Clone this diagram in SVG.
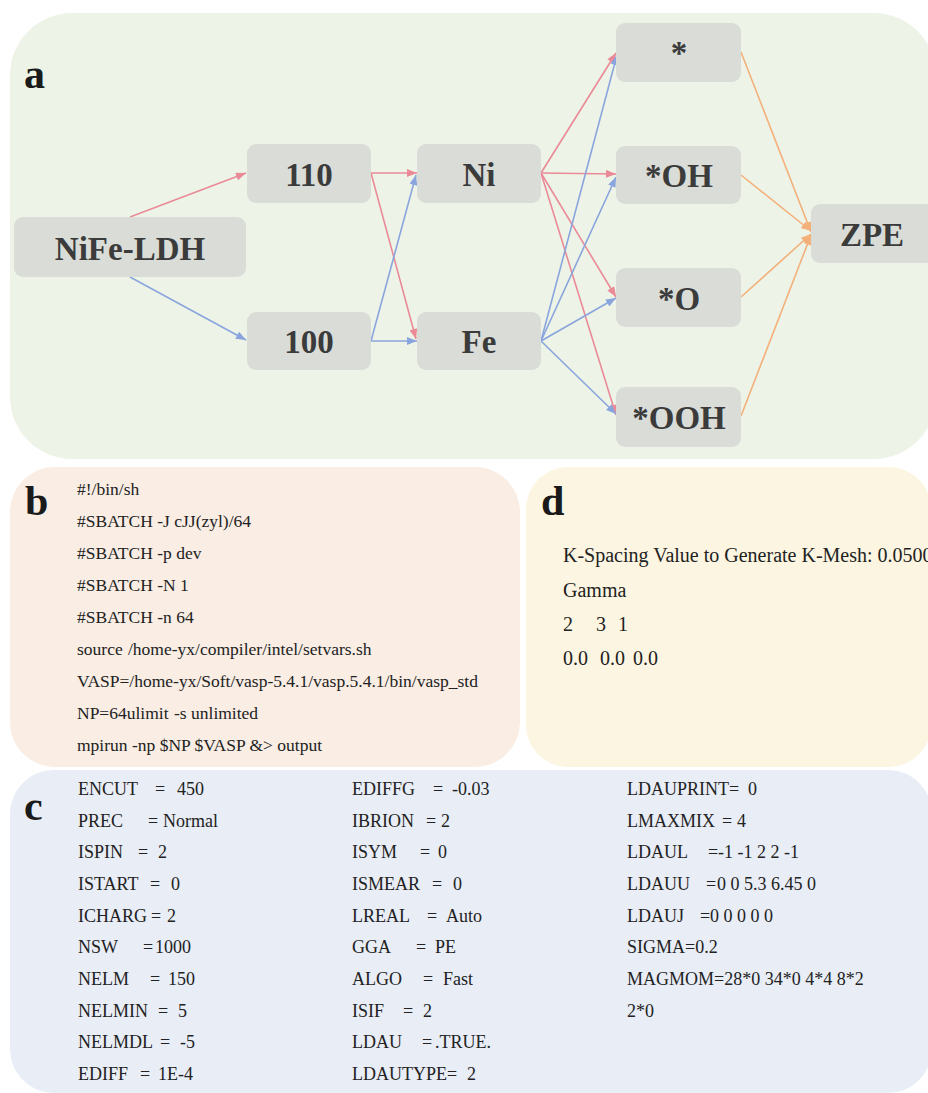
<svg xmlns="http://www.w3.org/2000/svg" width="928" height="1093" viewBox="0 0 928 1093">
<style>
.node{fill:#d9dcd7}
.nt{font-family:"Liberation Serif",serif;font-weight:bold;font-size:33px;fill:#3b3b3b;text-anchor:middle}
.lbl{font-family:"Liberation Serif",serif;font-weight:bold;font-size:42px;fill:#1a1a1a}
.code{font-family:"Liberation Serif",serif;font-size:17.5px;fill:#222}
.kp{font-family:"Liberation Serif",serif;font-size:20px;fill:#222}
.inc{font-family:"Liberation Serif",serif;font-size:18px;fill:#222}
.pk{stroke:#ea8a97;stroke-width:1.6;fill:none}
.bl{stroke:#8aa5dd;stroke-width:1.6;fill:none}
.or{stroke:#f3b07a;stroke-width:1.6;fill:none}
</style>
<defs>
<marker id="mp" viewBox="0 0 10 8" refX="10" refY="4" markerWidth="11" markerHeight="8" markerUnits="userSpaceOnUse" orient="auto"><path d="M0,0 L10,4 L0,8 z" fill="#ea8a97"/></marker>
<marker id="mb" viewBox="0 0 10 8" refX="10" refY="4" markerWidth="11" markerHeight="8" markerUnits="userSpaceOnUse" orient="auto"><path d="M0,0 L10,4 L0,8 z" fill="#8aa5dd"/></marker>
<marker id="mo" viewBox="0 0 10 8" refX="10" refY="4" markerWidth="11" markerHeight="8" markerUnits="userSpaceOnUse" orient="auto"><path d="M0,0 L10,4 L0,8 z" fill="#f3b07a"/></marker>
</defs>
<rect width="928" height="1093" fill="#ffffff"/>

<g id="panel-a">
<rect x="10" y="13" width="926" height="446" rx="62" fill="#edf4e7"/>
<text class="lbl" x="24" y="88">a</text>
</g>

<g id="connectors">
<line class="pk" x1="130" y1="217" x2="246" y2="173" marker-end="url(#mp)"/>
<line class="bl" x1="130" y1="277" x2="246" y2="340" marker-end="url(#mb)"/>
<line class="pk" x1="371" y1="173" x2="417" y2="173" marker-end="url(#mp)"/>
<line class="pk" x1="371" y1="173" x2="416" y2="339" marker-end="url(#mp)"/>
<line class="bl" x1="371" y1="341" x2="416" y2="175" marker-end="url(#mb)"/>
<line class="bl" x1="371" y1="341" x2="417" y2="341" marker-end="url(#mb)"/>
<line class="pk" x1="541" y1="173" x2="616" y2="53" marker-end="url(#mp)"/>
<line class="pk" x1="541" y1="173" x2="616" y2="174" marker-end="url(#mp)"/>
<line class="pk" x1="541" y1="173" x2="616" y2="297" marker-end="url(#mp)"/>
<line class="pk" x1="541" y1="173" x2="616" y2="415" marker-end="url(#mp)"/>
<line class="bl" x1="541" y1="341" x2="617" y2="55" marker-end="url(#mb)"/>
<line class="bl" x1="541" y1="341" x2="616" y2="177" marker-end="url(#mb)"/>
<line class="bl" x1="541" y1="341" x2="616" y2="298" marker-end="url(#mb)"/>
<line class="bl" x1="541" y1="341" x2="616" y2="414" marker-end="url(#mb)"/>
<line class="or" x1="741" y1="52" x2="811" y2="232" marker-end="url(#mo)"/>
<line class="or" x1="741" y1="175" x2="811" y2="231" marker-end="url(#mo)"/>
<line class="or" x1="741" y1="297" x2="811" y2="234" marker-end="url(#mo)"/>
<line class="or" x1="741" y1="416" x2="811" y2="235" marker-end="url(#mo)"/>
</g>

<g id="n-nife"><rect class="node" x="14" y="217" width="232" height="60" rx="9"/><text class="nt" x="130" y="260">NiFe-LDH</text></g>
<g id="n-110"><rect class="node" x="247" y="144" width="124" height="59" rx="9"/><text class="nt" x="309" y="186">110</text></g>
<g id="n-100"><rect class="node" x="247" y="312" width="124" height="58" rx="9"/><text class="nt" x="309" y="353">100</text></g>
<g id="n-ni"><rect class="node" x="417" y="144" width="124" height="59" rx="9"/><text class="nt" x="479" y="186">Ni</text></g>
<g id="n-fe"><rect class="node" x="417" y="312" width="124" height="58" rx="9"/><text class="nt" x="479" y="353">Fe</text></g>
<g id="n-star"><rect class="node" x="616" y="23" width="125" height="59" rx="9"/><text class="nt" x="679" y="64">*</text></g>
<g id="n-oh"><rect class="node" x="616" y="146" width="125" height="58" rx="9"/><text class="nt" x="679" y="187">*OH</text></g>
<g id="n-o"><rect class="node" x="616" y="268" width="125" height="59" rx="9"/><text class="nt" x="679" y="310">*O</text></g>
<g id="n-ooh"><rect class="node" x="616" y="387" width="125" height="60" rx="9"/><text class="nt" x="679" y="429">*OOH</text></g>
<g id="n-zpe"><rect class="node" x="811" y="204" width="130" height="59" rx="9"/><text class="nt" x="872" y="246">ZPE</text></g>

<g id="panel-b">
<rect x="10" y="467" width="510" height="300" rx="45" fill="#f9ede4"/>
<text class="lbl" x="25" y="515">b</text>
<text class="code" x="77" y="495">#!/bin/sh</text>
<text class="code" x="77" y="527">#SBATCH -J cJJ(zyl)/64</text>
<text class="code" x="77" y="559">#SBATCH -p dev</text>
<text class="code" x="77" y="591">#SBATCH -N 1</text>
<text class="code" x="77" y="623">#SBATCH -n 64</text>
<text class="code" x="77" y="655">source <tspan x="128">/home-yx/compiler/intel/setvars.sh</tspan></text>
<text class="code" x="77" y="687">VASP=/home-yx/Soft/vasp-5.4.1/vasp.5.4.1/bin/vasp_std</text>
<text class="code" x="77" y="719">NP=64ulimit <tspan x="174">-s unlimited</tspan></text>
<text class="code" x="77" y="751">mpirun -np $NP $VASP &amp;&gt; output</text>
</g>

<g id="panel-d">
<rect x="526" y="467" width="405" height="300" rx="42" fill="#fcf5e1"/>
<text class="lbl" x="541" y="515">d</text>
<text class="kp" x="563" y="562">K-Spacing Value to Generate K-Mesh: 0.0500</text>
<text class="kp" x="563" y="597">Gamma</text>
<text class="kp" x="563" y="631">2<tspan x="596">3</tspan><tspan x="618">1</tspan></text>
<text class="kp" x="563" y="665">0.0 <tspan x="600">0.0</tspan><tspan x="633">0.0</tspan></text>
</g>

<g id="panel-c">
<rect x="10" y="770" width="922" height="323" rx="44" fill="#e8edf6"/>
<text class="lbl" x="24" y="820">c</text>
<g class="inc">
<text x="78" y="795">ENCUT<tspan x="155">=</tspan><tspan x="177">450</tspan></text>
<text x="78" y="827">PREC<tspan x="148">=</tspan><tspan x="163">Normal</tspan></text>
<text x="78" y="858">ISPIN<tspan x="138">=</tspan><tspan x="158">2</tspan></text>
<text x="78" y="890">ISTART<tspan x="150">=</tspan><tspan x="171">0</tspan></text>
<text x="78" y="922">ICHARG<tspan x="151">=</tspan><tspan x="167">2</tspan></text>
<text x="78" y="953">NSW<tspan x="143">=</tspan><tspan x="155">1000</tspan></text>
<text x="78" y="985">NELM<tspan x="150">=</tspan><tspan x="168">150</tspan></text>
<text x="78" y="1017">NELMIN<tspan x="158">=</tspan><tspan x="178">5</tspan></text>
<text x="78" y="1048">NELMDL<tspan x="160">=</tspan><tspan x="180">-5</tspan></text>
<text x="78" y="1080">EDIFF<tspan x="140">=</tspan><tspan x="158">1E-4</tspan></text>

<text x="352" y="795">EDIFFG<tspan x="433">=</tspan><tspan x="452">-0.03</tspan></text>
<text x="352" y="827">IBRION<tspan x="426">=</tspan><tspan x="441">2</tspan></text>
<text x="352" y="858">ISYM<tspan x="420">=</tspan><tspan x="438">0</tspan></text>
<text x="352" y="890">ISMEAR<tspan x="432">=</tspan><tspan x="453">0</tspan></text>
<text x="352" y="922">LREAL<tspan x="427">=</tspan><tspan x="446">Auto</tspan></text>
<text x="352" y="953">GGA<tspan x="416">=</tspan><tspan x="435">PE</tspan></text>
<text x="352" y="985">ALGO<tspan x="423">=</tspan><tspan x="443">Fast</tspan></text>
<text x="352" y="1017">ISIF<tspan x="403">=</tspan><tspan x="423">2</tspan></text>
<text x="352" y="1048">LDAU<tspan x="422">=</tspan><tspan x="435">.TRUE.</tspan></text>
<text x="352" y="1080">LDAUTYPE=<tspan x="467">2</tspan></text>

<text x="627" y="795">LDAUPRINT=<tspan x="748">0</tspan></text>
<text x="627" y="827">LMAXMIX<tspan x="722">=</tspan><tspan x="737">4</tspan></text>
<text x="627" y="858">LDAUL<tspan x="708">=</tspan><tspan x="718">-1 -1 2 2 -1</tspan></text>
<text x="627" y="890">LDAUU<tspan x="706">=</tspan><tspan x="717">0 0 5.3 6.45 0</tspan></text>
<text x="627" y="922">LDAUJ<tspan x="700">=</tspan><tspan x="710">0 0 0 0 0</tspan></text>
<text x="627" y="953">SIGMA=0.2</text>
<text x="627" y="985">MAGMOM=28*0 34*0 4*4 8*2</text>
<text x="627" y="1017">2*0</text>
</g>
</g>
</svg>
